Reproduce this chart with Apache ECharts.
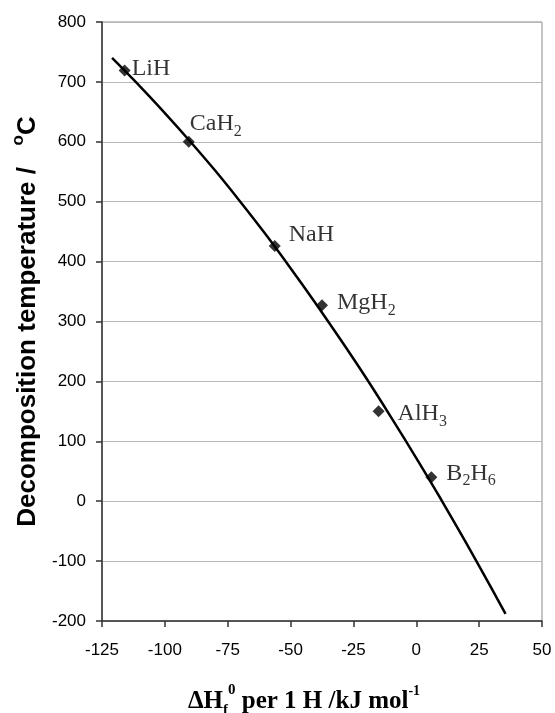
<!DOCTYPE html>
<html>
<head>
<meta charset="utf-8">
<script src="https://cdn.jsdelivr.net/npm/echarts@6/dist/echarts.min.js"></script>
<style>
html,body{margin:0;padding:0;background:#fff;}
#chart{width:555px;height:713px;}
</style>
</head>
<body>
<div id="chart"></div>
<script>
// Hydride data points (ΔHf per H, decomposition temperature)
const hydrideNames = ['LiH', 'CaH2', 'NaH', 'MgH2', 'AlH3', 'B2H6'];
const hydrideLabels = ['{m|LiH}', '{m|CaH}{sub|2}', '{m|NaH}', '{m|MgH}{sub|2}', '{m|AlH}{sub|3}', '{m|B}{sub|2}{m|H}{sub|6}'];
const hydrideDH = [-116, -90.5, -56.3, -37.5, -15, 6];
const hydrideT = [719, 600, 426, 327, 150, 40];

// Fitted curve
const curveX = [-121, -110, -100, -90, -80, -70, -60, -50, -40, -30, -20, -10, 0, 10, 20, 30, 35.5];
const curveY = [740, 693, 648, 601, 552, 500, 446, 389, 330, 269, 206, 140, 72, 2, -71, -146, -188];

const xTicks = [-125, -100, -75, -50, -25, 0, 25, 50];
const yTicks = [-200, -100, 0, 100, 200, 300, 400, 500, 600, 700, 800];

// label placement (px offsets relative to the marker), styling only
const labelOffsets = {
  'LiH': [-4, -2], 'CaH2': [-10, -18], 'NaH': [3, -11],
  'MgH2': [4, -3], 'AlH3': [8, 2], 'B2H6': [4, -4]
};

const serif = 'Liberation Serif, Times New Roman, serif';
const sans = 'Liberation Sans, Arial, sans-serif';
const labelRich = {
  m: { fontFamily: serif, fontSize: 24, color: '#000', lineHeight: 24, verticalAlign: 'top' },
  sub: { fontFamily: serif, fontSize: 16, color: '#000', lineHeight: 16, verticalAlign: 'top', padding: [12, 0, 0, 0] }
};

const chart = echarts.init(document.getElementById('chart'), null, { renderer: 'canvas' });

const scatterData = hydrideNames.map((n, i) => ({
  name: n,
  value: [hydrideDH[i], hydrideT[i]],
  label: {
    offset: labelOffsets[n],
    formatter: hydrideLabels[i]
  }
}));

chart.setOption({
  animation: false,
  backgroundColor: '#ffffff',
  grid: { left: 102, right: 13, top: 22, bottom: 92, show: true, borderColor: '#8a8a8a', borderWidth: 1, containLabel: false, outerBoundsMode: 'none' },
  xAxis: {
    type: 'value',
    min: xTicks[0], max: xTicks[xTicks.length - 1], interval: 25,
    axisLine: { show: true, onZero: false, lineStyle: { color: '#333', width: 1.5 } },
    axisTick: { show: true, inside: false, length: 6, lineStyle: { color: '#333', width: 1.5 } },
    splitLine: { show: false },
    axisLabel: { color: '#000', fontFamily: sans, fontSize: 17, margin: 21 },
    name: '{m|ΔH}{sub|f}{sup|0}{m| per 1 H /kJ mol}{sup2|-1}',
    nameLocation: 'middle',
    nameGap: 62,
    nameTextStyle: {
      fontFamily: serif, fontSize: 25, fontWeight: 'bold', color: '#000',
      padding: [0, 36, 0, 0],
      rich: {
        m: { fontFamily: serif, fontSize: 25, fontWeight: 'bold', color: '#000', lineHeight: 26, verticalAlign: 'top', padding: [6, 0, 0, 0] },
        sub: { fontFamily: serif, fontSize: 15, fontWeight: 'bold', color: '#000', lineHeight: 15, verticalAlign: 'top', padding: [20, 0, 0, 0] },
        sup: { fontFamily: serif, fontSize: 15, fontWeight: 'bold', color: '#000', lineHeight: 15, verticalAlign: 'top', padding: [0, 0, 0, 0] },
        sup2: { fontFamily: serif, fontSize: 14, fontWeight: 'bold', color: '#000', lineHeight: 14, verticalAlign: 'top', padding: [1, 0, 0, 0] }
      }
    }
  },
  yAxis: {
    type: 'value',
    min: yTicks[0], max: yTicks[yTicks.length - 1], interval: 100,
    axisLine: { show: true, onZero: false, lineStyle: { color: '#333', width: 1.5 } },
    axisTick: { show: true, inside: false, length: 6, lineStyle: { color: '#333', width: 1.5 } },
    splitLine: { show: true, lineStyle: { color: '#b8b8b8', width: 1 } },
    axisLabel: { color: '#000', fontFamily: sans, fontSize: 17, margin: 16 },
    name: '{m|Decomposition temperature /   }{sup|o}{m|C}',
    nameLocation: 'middle',
    nameGap: 58,
    nameTextStyle: {
      fontFamily: sans, fontSize: 26, fontWeight: 'bold', color: '#000',
      rich: {
        m: { fontFamily: sans, fontSize: 26, fontWeight: 'bold', color: '#000', lineHeight: 28, verticalAlign: 'top', padding: [5, 0, 0, 0] },
        sup: { fontFamily: sans, fontSize: 17, fontWeight: 'bold', color: '#000', lineHeight: 17, verticalAlign: 'top', padding: [0, 0, 0, 0] }
      }
    }
  },
  series: [
    {
      type: 'line',
      data: curveX.map((x, i) => [x, curveY[i]]),
      smooth: 0.3,
      showSymbol: false,
      lineStyle: { color: '#000', width: 2.5 },
      z: 2
    },
    {
      type: 'scatter',
      data: scatterData,
      symbol: 'diamond',
      symbolSize: 12,
      itemStyle: { color: '#000' },
      label: {
        show: true,
        position: 'right',
        distance: 5,
        fontFamily: serif,
        fontSize: 24,
        color: '#000',
        rich: labelRich
      },
      z: 3
    }
  ]
});
</script>
</body>
</html>
